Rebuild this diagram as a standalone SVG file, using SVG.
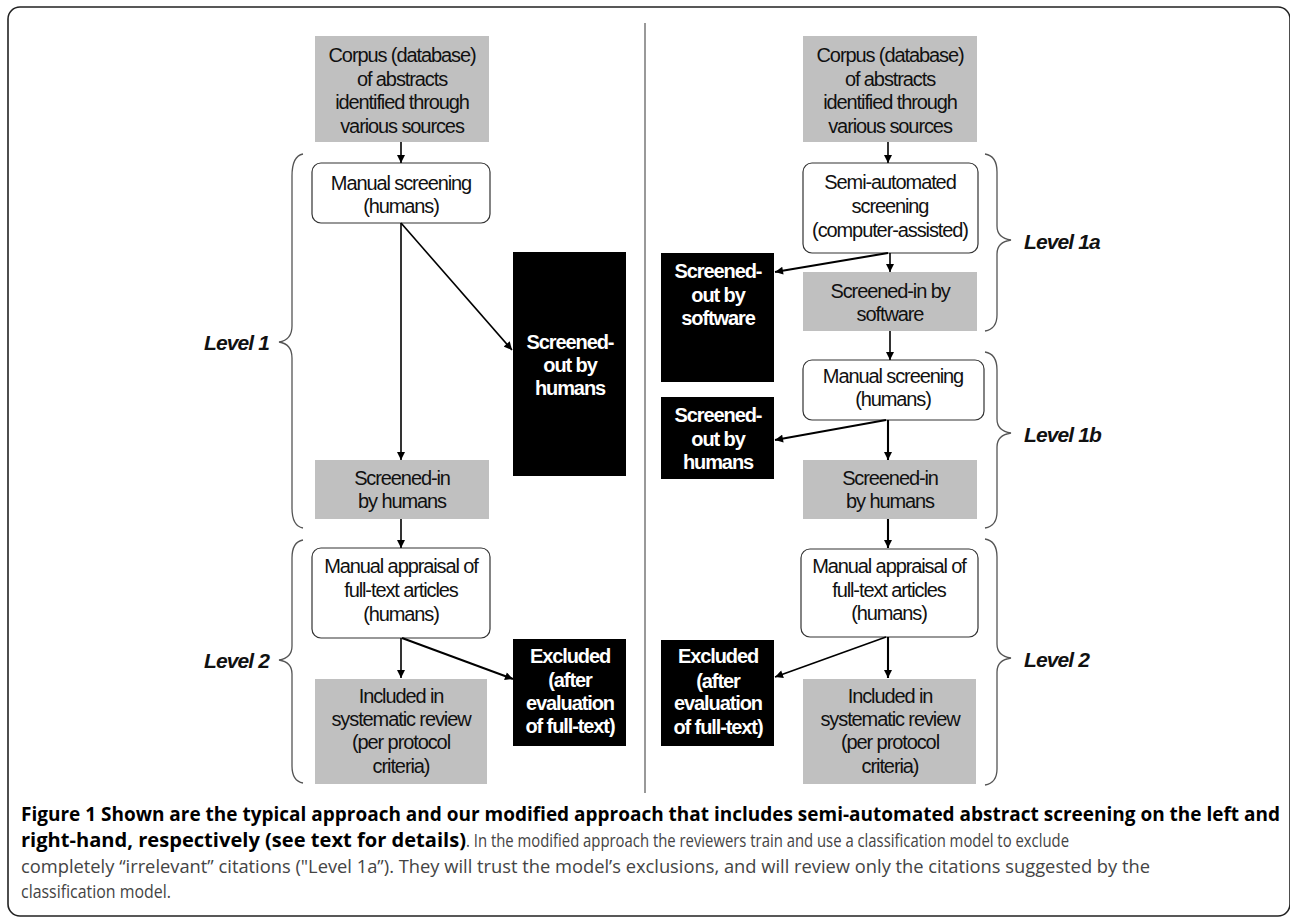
<svg xmlns="http://www.w3.org/2000/svg" width="1290" height="918" viewBox="0 0 1290 918">
<style>
.bg{fill:#ffffff}
.frame{fill:none;stroke:#222;stroke-width:1.6}
.div{stroke:#555;stroke-width:1.2}
.grey{fill:#c0c0c0}
.black{fill:#000}
.rnd{fill:#fff;stroke:#333;stroke-width:1.2}
.t{font-family:"Liberation Sans",Arial,sans-serif;font-size:20px;fill:#111;text-anchor:middle;letter-spacing:-1.1px}
.tw{font-family:"Liberation Sans",Arial,sans-serif;font-size:20px;font-weight:bold;fill:#fff;text-anchor:middle;letter-spacing:-1.1px}
.lvl{font-family:"Liberation Sans",Arial,sans-serif;font-size:21px;font-weight:bold;font-style:italic;fill:#111;letter-spacing:-0.9px}
.brace{fill:none;stroke:#555;stroke-width:1.3}
.con{stroke:#000;stroke-width:1.6;fill:none;marker-end:url(#ah)}
.con2{stroke:#000;stroke-width:2.1;fill:none;marker-end:url(#ah)}
.capb{font-family:"Open Sans","Noto Sans",sans-serif;font-size:19px;font-weight:bold;fill:#000}
.capr{font-family:"Open Sans","Noto Sans",sans-serif;font-size:18px;fill:#444}
</style>
<defs>
<marker id="ah" viewBox="0 0 10 10" refX="10" refY="5" markerWidth="9" markerHeight="8" markerUnits="userSpaceOnUse" orient="auto">
<path d="M0,0 L10,5 L0,10 z" fill="#000"/>
</marker>
</defs>
<rect class="bg" x="0" y="0" width="1290" height="918"/>
<rect class="frame" x="8" y="7" width="1282" height="909" rx="12"/>
<line class="div" x1="645" y1="23" x2="645" y2="793"/>

<!-- LEFT -->
<g id="corpusL"><rect class="grey" x="315" y="36" width="174" height="106"/>
<text class="t" x="402" y="62">Corpus (database)</text><text class="t" x="402" y="86">of abstracts</text><text class="t" x="402" y="109">identified through</text><text class="t" x="402" y="133">various sources</text></g>
<g id="manualL"><rect class="rnd" x="312" y="163" width="178" height="60" rx="9"/>
<text class="t" x="401" y="190">Manual screening</text><text class="t" x="401" y="213">(humans)</text></g>
<g id="screenedOutL"><rect class="black" x="513" y="252" width="113" height="224"/>
<text class="tw" x="570" y="349">Screened-</text><text class="tw" x="570" y="372">out by</text><text class="tw" x="570" y="395">humans</text></g>
<g id="screenedInL"><rect class="grey" x="315" y="460" width="174" height="59"/>
<text class="t" x="402" y="485">Screened-in</text><text class="t" x="402" y="508">by humans</text></g>
<g id="appraisalL"><rect class="rnd" x="312" y="548" width="178" height="90" rx="9"/>
<text class="t" x="401" y="573">Manual appraisal of</text><text class="t" x="401" y="597">full-text articles</text><text class="t" x="401" y="621">(humans)</text></g>
<g id="includedL"><rect class="grey" x="315" y="679" width="172" height="105"/>
<text class="t" x="401" y="703">Included in</text><text class="t" x="401" y="726">systematic review</text><text class="t" x="401" y="749">(per protocol</text><text class="t" x="401" y="773">criteria)</text></g>
<g id="excludedL"><rect class="black" x="513" y="639" width="113" height="107"/>
<text class="tw" x="570" y="663">Excluded</text><text class="tw" x="570" y="687">(after</text><text class="tw" x="570" y="710">evaluation</text><text class="tw" x="570" y="733">of full-text)</text></g>

<g id="level1L"><path class="brace" d="M303,154 Q292,156 292,176 L292,326 Q292,340 279,342 Q292,344 292,358 L292,508 Q292,526 303,528"/>
<text class="lvl" x="269" y="350" text-anchor="end">Level 1</text></g>
<g id="level2L"><path class="brace" d="M303,540 Q292,542 292,558 L292,646 Q292,658 279,660 Q292,662 292,674 L292,766 Q292,781 303,783"/>
<text class="lvl" x="269" y="668" text-anchor="end">Level 2</text></g>

<!-- RIGHT -->
<g id="corpusR"><rect class="grey" x="803" y="36" width="174" height="106"/>
<text class="t" x="890" y="62">Corpus (database)</text><text class="t" x="890" y="86">of abstracts</text><text class="t" x="890" y="109">identified through</text><text class="t" x="890" y="133">various sources</text></g>
<g id="semiR"><rect class="rnd" x="803" y="163" width="175" height="90" rx="9"/>
<text class="t" x="890" y="189">Semi-automated</text><text class="t" x="890" y="213">screening</text><text class="t" x="890" y="237">(computer-assisted)</text></g>
<g id="screenedInSoftR"><rect class="grey" x="803" y="272" width="174" height="59"/>
<text class="t" x="890" y="298">Screened-in by</text><text class="t" x="890" y="321">software</text></g>
<g id="outSoftR"><rect class="black" x="661" y="253" width="113" height="129"/>
<text class="tw" x="718" y="278">Screened-</text><text class="tw" x="718" y="302">out by</text><text class="tw" x="718" y="325">software</text></g>
<g id="manualR"><rect class="rnd" x="803" y="360" width="181" height="60" rx="9"/>
<text class="t" x="893" y="383">Manual screening</text><text class="t" x="893" y="406">(humans)</text></g>
<g id="outHumR"><rect class="black" x="661" y="397" width="113" height="82"/>
<text class="tw" x="718" y="422">Screened-</text><text class="tw" x="718" y="446">out by</text><text class="tw" x="718" y="469">humans</text></g>
<g id="screenedInR"><rect class="grey" x="803" y="460" width="174" height="59"/>
<text class="t" x="890" y="485">Screened-in</text><text class="t" x="890" y="508">by humans</text></g>
<g id="appraisalR"><rect class="rnd" x="801" y="549" width="177" height="88" rx="9"/>
<text class="t" x="889" y="573">Manual appraisal of</text><text class="t" x="889" y="597">full-text articles</text><text class="t" x="889" y="620">(humans)</text></g>
<g id="includedR"><rect class="grey" x="803" y="679" width="173" height="105"/>
<text class="t" x="890" y="703">Included in</text><text class="t" x="890" y="726">systematic review</text><text class="t" x="890" y="749">(per protocol</text><text class="t" x="890" y="773">criteria)</text></g>
<g id="excludedR"><rect class="black" x="661" y="640" width="113" height="106"/>
<text class="tw" x="718" y="663">Excluded</text><text class="tw" x="718" y="688">(after</text><text class="tw" x="718" y="710">evaluation</text><text class="tw" x="718" y="734">of full-text)</text></g>

<g id="level1aR"><path class="brace" d="M985,154 Q997,156 997,172 L997,226 Q997,238 1011,240 Q997,242 997,254 L997,315 Q997,329 985,331"/>
<text class="lvl" x="1024" y="249">Level 1a</text></g>
<g id="level1bR"><path class="brace" d="M985,352 Q997,354 997,370 L997,419 Q997,431 1011,433 Q997,435 997,447 L997,512 Q997,526 985,528"/>
<text class="lvl" x="1024" y="442">Level 1b</text></g>
<g id="level2R"><path class="brace" d="M985,539 Q997,541 997,557 L997,644 Q997,656 1011,658 Q997,660 997,672 L997,769 Q997,783 985,785"/>
<text class="lvl" x="1024" y="667">Level 2</text></g>

<g id="connectors">
<line class="con" x1="401" y1="142" x2="401" y2="163"/>
<line class="con" x1="401" y1="223" x2="401" y2="460"/>
<line class="con" x1="401" y1="223" x2="512" y2="350"/>
<line class="con" x1="401" y1="519" x2="401" y2="548"/>
<line class="con" x1="401" y1="638" x2="401" y2="678"/>
<line class="con2" x1="402" y1="638" x2="513" y2="679"/>
<line class="con" x1="888" y1="142" x2="888" y2="163"/>
<line class="con" x1="890" y1="253" x2="890" y2="272"/>
<line class="con2" x1="888" y1="253" x2="775" y2="272"/>
<line class="con" x1="890" y1="331" x2="890" y2="360"/>
<line class="con2" x1="888" y1="420" x2="888" y2="460"/>
<line class="con2" x1="886" y1="420" x2="775" y2="440"/>
<line class="con2" x1="888" y1="519" x2="888" y2="548"/>
<line class="con2" x1="888" y1="637" x2="888" y2="678"/>
<line class="con" x1="886" y1="637" x2="775" y2="677"/>
</g>

<g id="caption">
<text class="capb" x="21" y="821" textLength="1259" lengthAdjust="spacingAndGlyphs">Figure 1 Shown are the typical approach and our modified approach that includes semi-automated abstract screening on the left and</text>
<text class="capb" x="21" y="847" textLength="445" lengthAdjust="spacingAndGlyphs">right-hand, respectively (see text for details)</text>
<text class="capr" x="466" y="847" textLength="603" lengthAdjust="spacingAndGlyphs">. In the modified approach the reviewers train and use a classification model to exclude</text>
<text class="capr" x="21" y="873" textLength="1129" lengthAdjust="spacingAndGlyphs">completely “irrelevant” citations ("Level 1a”). They will trust the model’s exclusions, and will review only the citations suggested by the</text>
<text class="capr" x="21" y="898" textLength="150" lengthAdjust="spacingAndGlyphs">classification model.</text>
</g>
</svg>
